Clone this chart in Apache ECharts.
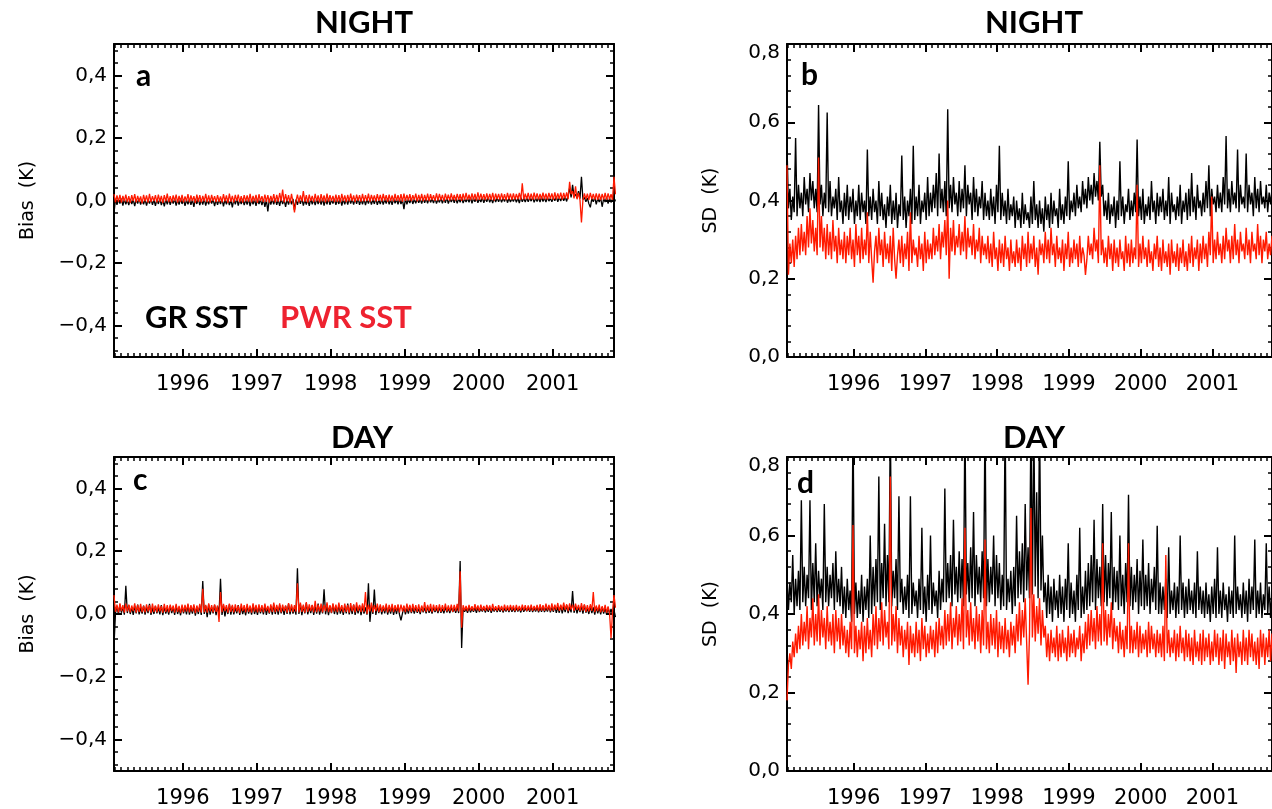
<!DOCTYPE html>
<html><head><meta charset="utf-8">
<script src="https://cdn.jsdelivr.net/npm/echarts@6/dist/echarts.min.js"></script>
<style>html,body{margin:0;padding:0;background:#fff}#c{width:1272px;height:809px}</style>
</head><body><div id="c"></div>
<script>
// ---- time sampling (one value every T_STEP years from T_START)
const T_START = 1995.07, T_STEP = 0.02, T_END = 2001.83;
const yearTicks = [1996, 1997, 1998, 1999, 2000, 2001];
const biasTicks = [-0.4, -0.2, 0, 0.2, 0.4];
const sdTicks = [0, 0.2, 0.4, 0.6, 0.8];
const panelTitles = ['NIGHT', 'NIGHT', 'DAY', 'DAY'];
const panelLetters = ['a', 'b', 'c', 'd'];
const yNames = ['Bias  (K)', 'SD  (K)', 'Bias  (K)', 'SD  (K)'];
const legendNames = ['GR SST', 'PWR SST'];

// ---- panel a: NIGHT bias (K)
const nightBiasGR = [
-.04,.005,-.014,.003,-.01,.006,-.016,.004,-.012,.002,
-.015,.005,-.011,.003,-.018,.004,-.01,.006,-.013,.002,
-.012,.004,-.016,.002,-.01,.005,-.014,.003,-.017,.004,
-.011,.006,-.015,.002,-.019,.004,-.012,.005,-.014,.003,
-.01,.005,-.016,.003,-.013,.006,-.011,.004,-.017,.002,
-.012,.004,-.014,.003,-.02,.005,-.011,.006,-.015,.003,
-.013,.005,-.016,.002,-.012,.006,-.01,.004,-.018,.003,
-.014,.004,-.011,.005,-.019,.003,-.012,.006,-.015,.002,
-.022,.004,-.012,.006,-.016,.003,-.011,.005,-.015,.002,
-.013,.005,-.018,.003,-.012,.004,-.017,.005,-.011,.003,
-.015,.004,-.02,.002,-.035,.005,-.013,.004,-.012,.006,
-.014,.003,-.017,.005,-.011,.002,-.02,.004,-.013,.006,
-.012,.005,-.03,.003,-.014,.006,-.011,.007,-.016,.002,
-.013,.004,-.017,.006,-.012,.003,-.015,.005,-.011,.004,
-.013,.006,-.016,.003,-.012,.007,-.014,.002,-.01,.005,
-.014,.003,-.011,.006,-.016,.004,-.012,.005,-.013,.007,
-.01,.004,-.013,.006,-.011,.008,-.014,.003,-.012,.005,
-.015,.004,-.01,.006,-.013,.003,-.011,.007,-.014,.002,
-.011,.005,-.013,.004,-.01,.007,-.012,.003,-.014,.006,
-.009,.004,-.012,.005,-.011,.003,-.028,.006,-.012,.004,
-.008,.007,-.011,.004,-.009,.006,-.007,.005,-.01,.007,
-.007,.006,-.009,.008,-.006,.005,-.008,.007,-.01,.004,
-.006,.008,-.009,.006,-.007,.009,-.01,.005,-.005,.007,
-.007,.008,-.009,.006,-.006,.009,-.008,.005,-.005,.007,
-.006,.01,-.009,.007,-.004,.008,-.007,.006,-.005,.009,
-.007,.007,-.004,.01,-.006,.006,-.008,.009,-.005,.008,
-.004,.009,-.006,.007,-.003,.01,-.007,.008,-.005,.006,
-.003,.009,-.006,.008,-.008,.01,-.004,.007,-.005,.009,
-.004,.008,-.002,.01,-.006,.007,-.003,.009,-.005,.011,
-.003,.008,-.005,.01,-.002,.007,-.004,.009,-.001,.012,
-.004,.01,-.002,.013,-.001,.011,-.003,.016,.04,.01,
.05,.013,.02,.008,.03,.006,.076,.003,.01,-.004,
.008,-.01,-.022,.006,-.004,.01,-.012,.007,-.005,.008,
-.02,.006,-.005,.009,-.01,.007,-.006,.005,-.008,.003];
const nightBiasPWR = [
.02,-.006,.016,-.004,.018,-.007,.015,-.003,.019,-.005,
.014,-.008,.017,-.002,.02,-.006,.015,-.004,.013,-.009,
.018,-.003,.016,-.007,.021,-.005,.014,-.002,.017,-.006,
.019,-.004,.015,-.008,.017,-.003,.022,-.005,.014,-.006,
.016,-.002,.019,-.007,.015,-.004,.018,-.006,.013,-.003,
.02,-.005,.016,-.002,.014,-.008,.019,-.004,.017,-.006,
.015,-.003,.021,-.005,.016,-.007,.018,-.002,.014,-.005,
.017,-.004,.013,-.006,.02,-.003,.016,-.008,.022,-.004,
.015,-.006,.018,-.002,.019,-.005,.014,-.007,.017,-.003,
.016,-.004,.021,-.006,.015,-.003,.018,-.008,.02,-.002,
.014,-.005,.019,-.004,.017,-.007,.015,-.003,.02,-.006,
.018,-.004,.024,-.002,.035,-.006,.02,-.003,.017,-.008,
.021,-.005,-.038,-.002,.019,-.006,.016,-.003,.03,-.004,
.017,-.007,.019,-.002,.015,-.005,.021,-.003,.016,-.006,
.02,-.003,.016,-.006,.022,-.004,.017,-.002,.015,-.005,
.019,-.004,.017,-.006,.021,-.002,.016,-.005,.018,-.003,
.022,-.002,.016,-.005,.019,-.001,.017,-.004,.021,-.003,
.017,-.002,.022,-.004,.018,.0,.016,-.003,.02,-.001,
.018,-.003,.021,.0,.017,-.004,.019,-.002,.016,-.003,
.021,-.001,.017,-.003,.02,-.004,.022,-.001,.018,.0,
.02,-.002,.017,.001,.022,-.003,.018,.0,.021,-.002,
.018,.0,.022,-.002,.02,.001,.017,-.001,.023,.0,
.021,.001,.018,-.002,.022,.002,.019,.0,.023,.001,
.018,.0,.021,.002,.02,-.001,.022,.001,.024,.002,
.019,.001,.023,.002,.021,.0,.026,.002,.022,.003,
.02,.001,.023,.003,.021,.002,.024,.0,.022,.004,
.021,.002,.023,.003,.02,.001,.024,.004,.022,.002,
.023,.003,.021,.004,.024,.002,.055,.003,.022,.004,
.024,.003,.022,.002,.025,.004,.023,.003,.021,.004,
.025,.004,.022,.003,.024,.005,.023,.002,.026,.004,
.023,.005,.025,.003,.024,.006,.026,.004,.06,.02,
.03,.007,.045,.004,.024,.002,-.07,.003,.023,.004,
.022,.002,.024,.004,.021,.003,.023,.002,.022,.001,
.021,.003,.024,.002,.023,.004,.02,.002,.076,.02];

// ---- panel b: NIGHT SD (K)
const nightSdGR = [
.54,.38,.43,.35,.41,.37,.56,.36,.44,.38,
.42,.36,.46,.39,.43,.37,.47,.40,.45,.38,
.43,.37,.644,.39,.44,.36,.42,.38,.625,.37,
.45,.36,.41,.38,.43,.35,.46,.37,.40,.34,
.42,.36,.44,.35,.41,.37,.43,.34,.40,.36,
.44,.35,.42,.37,.40,.34,.53,.36,.41,.35,
.43,.37,.40,.34,.45,.36,.42,.35,.39,.33,
.41,.36,.44,.34,.40,.35,.42,.33,.39,.36,
.515,.35,.41,.33,.40,.36,.43,.34,.54,.35,
.41,.36,.44,.34,.40,.37,.42,.35,.46,.36,
.42,.37,.44,.38,.47,.36,.52,.38,.43,.37,
.45,.36,.633,.38,.44,.37,.46,.39,.42,.36,
.45,.37,.43,.38,.49,.36,.44,.39,.42,.35,
.46,.37,.43,.36,.41,.38,.45,.35,.42,.36,
.40,.35,.43,.36,.41,.34,.44,.37,.54,.35,
.42,.36,.40,.34,.43,.35,.39,.36,.41,.33,
.40,.35,.38,.33,.42,.34,.39,.35,.37,.33,
.41,.34,.45,.35,.39,.33,.40,.34,.38,.32,
.41,.35,.39,.33,.42,.34,.40,.36,.38,.33,
.43,.35,.39,.34,.41,.36,.50,.35,.40,.37,
.42,.36,.44,.38,.41,.37,.45,.39,.43,.38,
.46,.40,.44,.39,.47,.41,.45,.40,.55,.41,
.44,.36,.40,.35,.42,.34,.39,.36,.41,.33,
.40,.35,.50,.36,.41,.34,.39,.37,.43,.35,
.40,.36,.42,.37,.556,.36,.41,.35,.43,.34,
.39,.36,.41,.35,.45,.37,.40,.34,.42,.36,
.41,.37,.43,.35,.40,.36,.46,.34,.42,.37,
.39,.35,.41,.36,.44,.34,.40,.37,.42,.35,
.43,.36,.47,.37,.41,.35,.44,.38,.40,.36,
.42,.37,.45,.38,.49,.36,.43,.39,.41,.37,
.44,.38,.42,.37,.46,.39,.565,.38,.43,.37,
.45,.39,.42,.38,.53,.37,.44,.39,.41,.38,
.52,.37,.44,.39,.42,.36,.46,.38,.43,.37,
.45,.39,.41,.38,.44,.37,.42,.39,.43,.38];
const nightSdPWR = [
.49,.21,.29,.24,.30,.23,.31,.25,.33,.26,
.34,.27,.32,.26,.36,.28,.38,.29,.35,.27,
.33,.26,.51,.28,.36,.27,.33,.25,.34,.26,
.32,.25,.35,.27,.31,.24,.33,.26,.30,.25,
.32,.24,.31,.26,.33,.25,.30,.23,.34,.26,
.31,.24,.33,.25,.30,.26,.37,.24,.32,.25,
.19,.27,.31,.24,.33,.26,.30,.23,.32,.25,
.29,.24,.31,.22,.33,.25,.20,.26,.30,.24,
.31,.23,.29,.25,.32,.22,.37,.24,.30,.26,
.28,.23,.31,.25,.29,.22,.32,.24,.30,.25,
.29,.25,.33,.26,.31,.27,.34,.25,.32,.28,
.35,.26,.40,.20,.33,.27,.35,.26,.31,.28,
.34,.26,.32,.27,.36,.25,.33,.28,.31,.26,
.34,.25,.30,.27,.33,.24,.31,.26,.29,.25,
.31,.24,.29,.23,.32,.25,.28,.22,.30,.24,
.29,.23,.31,.25,.28,.22,.30,.24,.27,.23,
.30,.24,.28,.22,.31,.25,.29,.23,.32,.24,
.29,.25,.31,.23,.28,.21,.30,.26,.29,.24,
.32,.25,.30,.24,.33,.26,.29,.23,.31,.25,
.28,.24,.30,.22,.29,.25,.32,.23,.28,.24,
.30,.25,.29,.23,.31,.24,.28,.26,.21,.25,
.31,.26,.29,.25,.33,.27,.30,.24,.49,.26,
.30,.24,.28,.23,.31,.25,.29,.22,.30,.24,
.28,.23,.30,.25,.27,.22,.31,.24,.29,.23,
.30,.24,.28,.25,.44,.23,.29,.24,.31,.25,
.28,.23,.30,.24,.27,.22,.29,.25,.31,.23,
.28,.22,.30,.24,.27,.23,.29,.21,.30,.24,
.27,.23,.29,.22,.28,.24,.30,.23,.27,.22,
.29,.24,.31,.23,.28,.25,.30,.22,.29,.24,
.31,.25,.29,.23,.32,.26,.41,.24,.30,.25,
.32,.26,.29,.24,.31,.25,.33,.27,.30,.24,
.31,.25,.34,.26,.30,.24,.32,.27,.29,.25,
.33,.26,.30,.24,.32,.27,.29,.25,.34,.26,
.31,.24,.30,.27,.32,.25,.29,.26,.31,.27];

// ---- panel c: DAY bias (K)
const dayBiasGR = [
-.1,.002,.025,-.001,.03,.004,.022,-.002,.09,.003,
.028,.0,.021,-.003,.026,.002,.03,-.001,.02,.001,
.027,-.002,.022,.003,.032,-.003,.019,.0,.025,.002,
.02,-.001,.028,-.004,.023,.001,.018,-.002,.026,.003,
.021,-.003,.027,.0,.019,-.004,.024,.002,.022,-.001,
.029,-.002,.02,.001,.025,-.005,.023,.0,.027,-.003,
.105,.0,.026,-.01,.03,-.002,.021,.002,.028,-.004,
.024,.001,.112,-.003,.027,-.008,.022,.0,.031,-.002,
.025,-.001,.02,.002,.028,-.003,.023,.0,.019,-.004,
.026,.001,.021,-.002,.029,.0,.018,-.003,.024,.002,
.022,-.001,.027,-.003,.02,.001,.025,-.002,.03,.0,
.023,-.002,.028,.002,.021,-.003,.026,.0,.032,-.001,
.024,.001,.019,-.002,.146,.0,.031,-.004,.026,.002,
.035,-.001,.022,.003,.028,-.003,.024,.001,.033,-.002,
.021,.002,.079,-.001,.027,-.004,.025,.003,.03,.0,
.023,-.002,.029,.001,.02,-.003,.026,.002,.033,-.001,
.024,.0,.03,-.003,.022,.002,.027,-.004,.025,.001,
.021,-.002,.098,-.025,.028,.0,.078,-.003,.024,.003,
.026,-.001,.022,.002,.027,-.002,.019,.001,.025,-.003,
.02,.0,.027,-.002,-.02,.002,.023,-.001,.018,.001,
.024,.003,.019,.001,.022,.004,.017,.0,.023,.005,
.02,.002,.024,.004,.018,.001,.021,.006,.019,.003,
.022,.004,.017,.002,.023,.005,.019,.003,.021,.006,
.018,.004,.022,.003,.169,-.108,.02,.007,.017,.004,
.021,.005,.018,.007,.02,.004,.022,.006,.017,.008,
.02,.005,.019,.007,.021,.004,.018,.008,.02,.006,
.019,.007,.021,.005,.018,.008,.02,.006,.022,.007,
.018,.006,.02,.008,.019,.005,.021,.007,.018,.009,
.02,.007,.022,.006,.019,.008,.021,.005,.02,.007,
.023,.006,.019,.008,.024,.005,.021,.007,.026,.004,
.022,.004,.027,.002,.024,.006,.028,.003,.023,.005,
.073,.004,.026,.002,.022,.006,.025,.001,.028,.004,
.019,.0,.025,.003,.021,-.002,.023,.002,.02,-.001,
.022,.001,.018,-.002,.02,.0,.016,-.003,.012,-.01];
const dayBiasPWR = [
.06,.007,.03,.005,.034,.009,.028,.004,.033,.008,
.03,.005,.027,.009,.034,.004,.029,.007,.032,.006,
.026,.005,.031,.008,.028,.003,.033,.007,.027,.005,
.031,.008,.026,.004,.032,.007,.028,.005,.03,.009,
.027,.004,.032,.007,.026,.003,.03,.006,.029,.008,
.033,.005,.028,.008,.031,.003,.027,.007,.032,.004,
.08,.006,.029,.004,.034,.008,.028,.005,.031,.007,
.027,-.025,.07,.006,.032,.009,.028,.004,.033,.007,
.029,.005,.031,.008,.027,.003,.033,.009,.028,.005,
.032,.007,.027,.004,.034,.008,.029,.005,.031,.007,
.028,.005,.033,.009,.026,.004,.031,.007,.036,.006,
.029,.008,.034,.005,.03,.009,.027,.004,.035,.007,
.031,.006,.028,.008,.098,.005,.036,.007,.03,.004,
.038,.007,.031,.009,.029,.005,.042,.006,.03,.008,
.033,.005,.029,.009,.037,.006,.028,.004,.034,.008,
.03,.006,.036,.009,.028,.005,.033,.007,.029,.004,
.035,.008,.03,.005,.037,.009,.029,.006,.034,.007,
.07,.0,.03,.008,.036,.005,.028,.009,.033,.006,
.031,.007,.027,.009,.033,.005,.029,.008,.032,.006,
.028,.009,.031,.005,.03,.008,.027,.006,.033,.009,
.029,.006,.032,.009,.028,.007,.031,.005,.027,.008,
.038,.007,.029,.009,.032,.006,.03,.01,.028,.008,
.031,.007,.028,.01,.033,.008,.027,.009,.03,.007,
.029,.009,.032,.008,.136,-.044,.028,.011,.026,.009,
.029,.011,.025,.01,.031,.012,.027,.009,.03,.011,
.026,.01,.029,.012,.027,.009,.032,.011,.025,.01,
.028,.012,.026,.009,.03,.011,.027,.01,.029,.012,
.027,.009,.029,.011,.026,.01,.03,.012,.028,.009,
.027,.011,.03,.01,.026,.012,.029,.009,.031,.011,
.028,.01,.033,.012,.029,.009,.034,.011,.03,.013,
.035,.01,.03,.012,.036,.013,.031,.009,.034,.014,
.03,.01,.033,.013,.029,.009,.035,.011,.031,.007,
.028,.008,.031,.01,.07,.006,.027,.009,.03,.005,
.025,.007,.029,.004,.024,.002,-.077,.008,.06,.02];

// ---- panel d: DAY SD (K)
const daySdGR = [
.50,.41,.48,.43,.55,.40,.49,.42,.51,.41,
.69,.43,.52,.42,.50,.44,.69,.41,.53,.43,
.58,.42,.51,.44,.49,.41,.68,.43,.52,.42,
.50,.44,.53,.41,.56,.43,.49,.42,.52,.40,
.47,.39,.49,.41,.46,.38,.9,.40,.48,.39,
.46,.40,.50,.38,.47,.41,.49,.39,.60,.40,
.52,.42,.54,.43,.75,.41,.53,.44,.63,.42,
.55,.43,.9,.42,.51,.44,.54,.41,.70,.43,
.49,.40,.47,.41,.50,.39,.70,.40,.48,.42,
.46,.39,.49,.41,.62,.40,.47,.38,.50,.41,
.60,.40,.48,.42,.46,.39,.51,.41,.49,.43,
.72,.43,.53,.44,.55,.42,.64,.45,.52,.43,
.56,.44,.54,.42,.9,.45,.53,.43,.57,.44,
.66,.42,.55,.45,.52,.43,.56,.44,.9,.42,
.54,.43,.52,.45,.60,.42,.55,.44,.53,.41,
.50,.42,.9,.41,.49,.43,.51,.40,.52,.42,
.65,.44,.56,.45,.58,.43,.68,.46,.57,.44,
.9,.45,.9,.47,.71,.44,.9,.46,.60,.43,
.48,.39,.50,.40,.47,.38,.49,.41,.46,.39,
.50,.40,.47,.38,.49,.41,.58,.39,.48,.40,
.46,.38,.50,.41,.62,.39,.47,.40,.51,.41,
.53,.42,.55,.43,.64,.41,.54,.44,.52,.42,
.68,.43,.55,.42,.53,.44,.66,.41,.52,.43,
.51,.41,.60,.42,.50,.40,.53,.43,.704,.42,
.52,.41,.50,.43,.54,.40,.51,.42,.59,.41,
.50,.42,.53,.40,.49,.43,.52,.41,.625,.40,
.48,.40,.47,.41,.49,.39,.57,.40,.46,.41,
.48,.39,.47,.40,.60,.41,.48,.39,.47,.40,
.49,.41,.46,.40,.48,.39,.56,.41,.47,.40,
.46,.39,.48,.40,.45,.38,.47,.40,.49,.39,
.57,.40,.46,.39,.48,.41,.45,.38,.47,.40,
.46,.39,.60,.40,.47,.41,.45,.39,.48,.40,
.46,.38,.49,.40,.47,.41,.59,.39,.46,.40,
.48,.39,.45,.41,.58,.40,.47,.39,.46,.41];
const daySdPWR = [
.18,.27,.30,.26,.33,.29,.35,.30,.37,.31,
.40,.32,.38,.33,.42,.31,.39,.34,.44,.32,
.40,.33,.45,.32,.41,.34,.39,.31,.42,.33,
.38,.32,.40,.30,.41,.33,.39,.31,.40,.32,
.37,.30,.36,.29,.38,.31,.627,.30,.37,.29,
.36,.31,.38,.28,.37,.30,.39,.31,.36,.29,
.40,.32,.42,.31,.39,.33,.43,.32,.41,.34,
.38,.31,.75,.32,.40,.33,.42,.30,.39,.32,
.37,.29,.36,.31,.38,.27,.37,.30,.35,.29,
.38,.30,.36,.28,.39,.31,.37,.29,.35,.30,
.37,.31,.36,.29,.38,.30,.39,.32,.37,.31,
.41,.32,.40,.33,.43,.31,.39,.34,.42,.32,
.40,.33,.44,.31,.62,.34,.41,.32,.43,.33,
.39,.31,.42,.33,.40,.30,.41,.32,.59,.31,
.38,.30,.40,.32,.39,.31,.41,.29,.38,.31,
.37,.30,.39,.31,.36,.29,.38,.32,.37,.30,
.40,.33,.43,.32,.41,.34,.44,.33,.22,.35,
.67,.34,.45,.33,.42,.35,.44,.32,.41,.34,
.37,.29,.35,.28,.36,.30,.34,.29,.37,.28,
.35,.29,.36,.30,.34,.28,.37,.29,.35,.30,
.36,.29,.34,.31,.37,.28,.35,.30,.38,.31,
.40,.32,.41,.33,.39,.31,.42,.33,.40,.32,
.58,.33,.41,.32,.40,.34,.43,.31,.39,.33,
.37,.30,.38,.31,.36,.29,.37,.31,.58,.30,
.37,.30,.36,.31,.38,.29,.37,.30,.35,.31,
.36,.29,.38,.30,.37,.31,.35,.29,.36,.30,
.35,.29,.37,.28,.55,.30,.36,.29,.34,.30,
.36,.28,.35,.29,.37,.30,.34,.28,.36,.29,
.35,.28,.34,.27,.36,.29,.33,.28,.35,.27,
.36,.28,.34,.29,.35,.27,.33,.28,.36,.29,
.35,.27,.34,.28,.36,.26,.35,.29,.33,.27,
.36,.28,.34,.25,.35,.29,.33,.27,.36,.28,
.34,.27,.36,.29,.35,.28,.33,.27,.34,.26,
.36,.29,.35,.27,.34,.29,.36,.28,.35,.30];

// ---------------------------------------------------------------
const panels = [
  {left:114, top:44, width:500, height:313, ymin:-0.5, ymax:0.5, ticks:biasTicks, gr:nightBiasGR, pwr:nightBiasPWR, cx:364, ty:23, lx:136, ly:76, nameGap:76, lw:1.3},
  {left:787, top:44, width:500, height:313, ymin:0, ymax:0.8, ticks:sdTicks, gr:nightSdGR, pwr:nightSdPWR, cx:1034, ty:23, lx:801, ly:75, nameGap:66, lw:1.4},
  {left:114, top:457, width:500, height:315, ymin:-0.5, ymax:0.5, ticks:biasTicks, gr:dayBiasGR, pwr:dayBiasPWR, cx:362, ty:438, lx:133, ly:480, nameGap:76, lw:1.3},
  {left:787, top:457, width:500, height:315, ymin:0, ymax:0.8, ticks:sdTicks, gr:daySdGR, pwr:daySdPWR, cx:1034, ty:438, lx:797, ly:483, nameGap:66, lw:1.4}
];
const RED = '#ff1a00';
const LABEL_FONT = 'DejaVu Sans';

const monthTicks = [];
for (let y = 1995; y <= 2001; y++) for (let m = 1; m < 12; m++) {
  const v = y + m / 12; if (v > T_START && v < T_END) monthTicks.push(v);
}
function minorY(p) {
  const out = [];
  for (let k = Math.round(p.ymin / 0.04); k <= Math.round(p.ymax / 0.04); k++) {
    const v = +(k * 0.04).toFixed(2);
    if (v > p.ymin && v < p.ymax && Math.abs(v / 0.2 - Math.round(v / 0.2)) > 1e-6) out.push(v);
  }
  return out;
}
function fmtY(v) {
  const r = Math.round(v * 10) / 10;
  let s = Math.abs(r).toFixed(1).replace('.', ',');
  if (r < 0) s = '\u2212' + s;
  if (Math.abs(r - 0.8) < 1e-6) return '{t|' + s + '}';
  return s;
}
const times = nightBiasGR.map((_, i) => +(T_START + i * T_STEP).toFixed(3));
const pairs = arr => arr.map((v, i) => [times[i], v]);

const grid = [], xAxis = [], yAxis = [], series = [], graphic = [];
panels.forEach((p, g) => {
  grid.push({left:p.left, top:p.top, width:p.width, height:p.height});
  const xBase = {gridIndex:g, type:'value', min:T_START, max:T_END, splitLine:{show:false}};
  const xi = xAxis.length;
  xAxis.push(Object.assign({}, xBase, {position:'bottom',
    axisLine:{show:true, onZero:false, lineStyle:{color:'#000', width:2}},
    axisTick:{show:true, inside:true, length:8, customValues:yearTicks, lineStyle:{color:'#000', width:2}},
    axisLabel:{show:true, customValues:yearTicks, formatter:v => String(Math.round(v)), margin:17, color:'#000', fontSize:21, fontFamily:LABEL_FONT}}));
  xAxis.push(Object.assign({}, xBase, {position:'top',
    axisLine:{show:true, onZero:false, lineStyle:{color:'#000', width:2}},
    axisTick:{show:true, inside:true, length:8, customValues:yearTicks, lineStyle:{color:'#000', width:2}},
    axisLabel:{show:false}}));
  ['bottom', 'top'].forEach(pos => xAxis.push(Object.assign({}, xBase, {position:pos,
    axisLine:{show:false, onZero:false},
    axisTick:{show:true, inside:true, length:4, customValues:monthTicks, lineStyle:{color:'#000', width:1.5}},
    axisLabel:{show:false}})));

  const yBase = {gridIndex:g, type:'value', min:p.ymin, max:p.ymax, splitLine:{show:false}};
  const yi = yAxis.length;
  yAxis.push(Object.assign({}, yBase, {position:'left',
    name:yNames[g], nameLocation:'middle', nameGap:p.nameGap, nameRotate:90,
    nameTextStyle:{color:'#000', fontSize:19, fontFamily:LABEL_FONT},
    axisLine:{show:true, onZero:false, lineStyle:{color:'#000', width:2}},
    axisTick:{show:true, inside:true, length:8, customValues:p.ticks, lineStyle:{color:'#000', width:2}},
    axisLabel:{show:true, customValues:p.ticks, formatter:fmtY, margin:7, color:'#000', fontSize:20, fontFamily:LABEL_FONT,
      rich:{t:{padding:[18,0,0,0], fontSize:20, fontFamily:LABEL_FONT, color:'#000'}}}}));
  yAxis.push(Object.assign({}, yBase, {position:'right',
    axisLine:{show:true, onZero:false, lineStyle:{color:'#000', width:2}},
    axisTick:{show:true, inside:true, length:8, customValues:p.ticks, lineStyle:{color:'#000', width:2}},
    axisLabel:{show:false}}));
  const mY = minorY(p);
  ['left', 'right'].forEach(pos => yAxis.push(Object.assign({}, yBase, {position:pos,
    axisLine:{show:false, onZero:false},
    axisTick:{show:true, inside:true, length:4, customValues:mY, lineStyle:{color:'#000', width:1.5}},
    axisLabel:{show:false}})));

  series.push({type:'line', name:legendNames[0], xAxisIndex:xi, yAxisIndex:yi, data:pairs(p.gr),
    showSymbol:false, symbol:'none', clip:true, lineStyle:{color:'#000', width:p.lw}, z:2});
  series.push({type:'line', name:legendNames[1], xAxisIndex:xi, yAxisIndex:yi, data:pairs(p.pwr),
    showSymbol:false, symbol:'none', clip:true, lineStyle:{color:RED, width:p.lw}, z:3});

  graphic.push({type:'text', x:p.cx, y:p.ty, style:{text:panelTitles[g], font:'bold 31px Lato', fill:'#000', textAlign:'center', textVerticalAlign:'middle'}});
  graphic.push({type:'text', x:p.lx, y:p.ly, style:{text:panelLetters[g], font:'bold 30px Lato', fill:'#000', textAlign:'left', textVerticalAlign:'middle'}});
});
graphic.push({type:'text', x:145, y:318, style:{text:legendNames[0], font:'bold 31px Lato', fill:'#000', textAlign:'left', textVerticalAlign:'middle'}});
graphic.push({type:'text', x:280, y:318, style:{text:legendNames[1], font:'bold 31px Lato', fill:'#ee2230', textAlign:'left', textVerticalAlign:'middle'}});

const chart = echarts.init(document.getElementById('c'), null, {renderer:'canvas'});
chart.setOption({animation:false, backgroundColor:'#fff', grid, xAxis, yAxis, series, graphic});
</script>
</body></html>
